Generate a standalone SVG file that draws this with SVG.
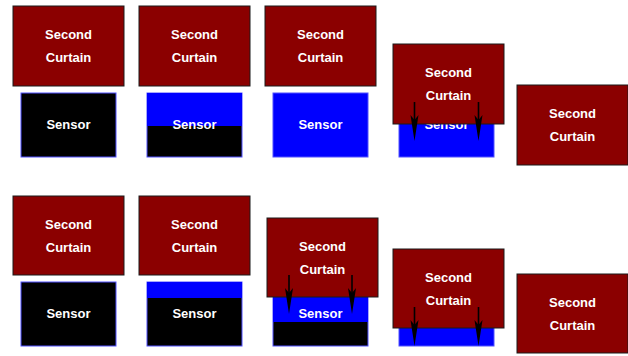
<svg xmlns="http://www.w3.org/2000/svg" width="628" height="356" viewBox="0 0 628 356">
  <defs>
    <style>
      .curtain { fill: #8b0000; stroke: #1a1a1a; stroke-width: 1; }
      .sensor { stroke: #5050ff; stroke-width: 1; }
      .exposed { fill: #0000ff; }
      .dark { fill: #000000; }
      .lbl { font-family: "Liberation Sans", Arial, sans-serif; font-weight: bold; font-size: 13px; fill: #ffffff; text-anchor: middle; }
      .arrow { stroke: #000000; stroke-width: 1.6; fill: none; }
      .head { fill: #000000; }
    </style>
  </defs>

  <rect width="628" height="356" fill="#ffffff"/>

  <!-- Top row: sensors -->
  <g id="sensor-t1">
    <rect class="sensor dark" x="21" y="93" width="95" height="64"/>
    <text class="lbl" x="68.5" y="128.5">Sensor</text>
  </g>
  <g id="sensor-t2">
    <rect class="sensor dark" x="147" y="93" width="95" height="64"/>
    <rect class="exposed" x="147" y="93" width="95" height="33"/>
    <text class="lbl" x="194.5" y="128.5">Sensor</text>
  </g>
  <g id="sensor-t3">
    <rect class="sensor exposed" x="273" y="93" width="95" height="64"/>
    <text class="lbl" x="320.5" y="128.5">Sensor</text>
  </g>
  <g id="sensor-t4">
    <rect class="sensor exposed" x="399" y="93" width="95" height="64"/>
    <text class="lbl" x="446.5" y="128.5">Sensor</text>
  </g>

  <!-- Top row: second curtain -->
  <g id="curtain-t1">
    <rect class="curtain" x="13" y="6" width="111" height="80"/>
    <text class="lbl" x="68.5" y="39">Second</text>
    <text class="lbl" x="68.5" y="62">Curtain</text>
  </g>
  <g id="curtain-t2">
    <rect class="curtain" x="139" y="6" width="111" height="80"/>
    <text class="lbl" x="194.5" y="39">Second</text>
    <text class="lbl" x="194.5" y="62">Curtain</text>
  </g>
  <g id="curtain-t3">
    <rect class="curtain" x="265" y="6" width="111" height="80"/>
    <text class="lbl" x="320.5" y="39">Second</text>
    <text class="lbl" x="320.5" y="62">Curtain</text>
  </g>
  <g id="curtain-t4">
    <rect class="curtain" x="393" y="44" width="111" height="80"/>
    <text class="lbl" x="448.5" y="77">Second</text>
    <text class="lbl" x="448.5" y="100">Curtain</text>
  </g>
  <g id="curtain-t5">
    <rect class="curtain" x="517" y="85" width="111" height="80"/>
    <text class="lbl" x="572.5" y="118">Second</text>
    <text class="lbl" x="572.5" y="141">Curtain</text>
  </g>

  <!-- Bottom row: sensors -->
  <g id="sensor-b1">
    <rect class="sensor dark" x="21" y="282" width="95" height="64"/>
    <text class="lbl" x="68.5" y="317.5">Sensor</text>
  </g>
  <g id="sensor-b2">
    <rect class="sensor dark" x="147" y="282" width="95" height="64"/>
    <rect class="exposed" x="147" y="282" width="95" height="16"/>
    <text class="lbl" x="194.5" y="317.5">Sensor</text>
  </g>
  <g id="sensor-b3">
    <rect class="sensor dark" x="273" y="282" width="95" height="64"/>
    <rect class="exposed" x="273" y="282" width="95" height="40"/>
    <text class="lbl" x="320.5" y="317.5">Sensor</text>
  </g>
  <!-- label of this sensor is fully covered by the curtain, so only the plate is drawn -->
  <g id="sensor-b4">
    <rect class="sensor exposed" x="399" y="282" width="95" height="64"/>
  </g>

  <!-- Bottom row: second curtain -->
  <g id="curtain-b1">
    <rect class="curtain" x="13" y="196" width="111" height="79"/>
    <text class="lbl" x="68.5" y="228.5">Second</text>
    <text class="lbl" x="68.5" y="251.5">Curtain</text>
  </g>
  <g id="curtain-b2">
    <rect class="curtain" x="139" y="196" width="111" height="79"/>
    <text class="lbl" x="194.5" y="228.5">Second</text>
    <text class="lbl" x="194.5" y="251.5">Curtain</text>
  </g>
  <g id="curtain-b3">
    <rect class="curtain" x="267" y="218" width="111" height="79"/>
    <text class="lbl" x="322.5" y="250.5">Second</text>
    <text class="lbl" x="322.5" y="273.5">Curtain</text>
  </g>
  <g id="curtain-b4">
    <rect class="curtain" x="393" y="249" width="111" height="79"/>
    <text class="lbl" x="448.5" y="281.5">Second</text>
    <text class="lbl" x="448.5" y="304.5">Curtain</text>
  </g>
  <g id="curtain-b5">
    <rect class="curtain" x="517" y="274" width="111" height="79"/>
    <text class="lbl" x="572.5" y="306.5">Second</text>
    <text class="lbl" x="572.5" y="329.5">Curtain</text>
  </g>

  <!-- Connectors: curtain travel arrows -->
  <g id="connectors">
    <line class="arrow" x1="414.5" y1="102" x2="414.5" y2="122"/>
    <path class="head" d="M414.5,141 L410.5,115 L414.5,120 L418.5,115 Z"/>
    <line class="arrow" x1="478.5" y1="102" x2="478.5" y2="122"/>
    <path class="head" d="M478.5,141 L474.5,115 L478.5,120 L482.5,115 Z"/>

    <line class="arrow" x1="289" y1="275" x2="289" y2="295"/>
    <path class="head" d="M289,314 L285,288 L289,293 L293,288 Z"/>
    <line class="arrow" x1="352" y1="275" x2="352" y2="295"/>
    <path class="head" d="M352,314 L348,288 L352,293 L356,288 Z"/>

    <line class="arrow" x1="414.5" y1="307" x2="414.5" y2="327"/>
    <path class="head" d="M414.5,346 L410.5,320 L414.5,325 L418.5,320 Z"/>
    <line class="arrow" x1="478.5" y1="307" x2="478.5" y2="327"/>
    <path class="head" d="M478.5,346 L474.5,320 L478.5,325 L482.5,320 Z"/>
  </g>
</svg>
